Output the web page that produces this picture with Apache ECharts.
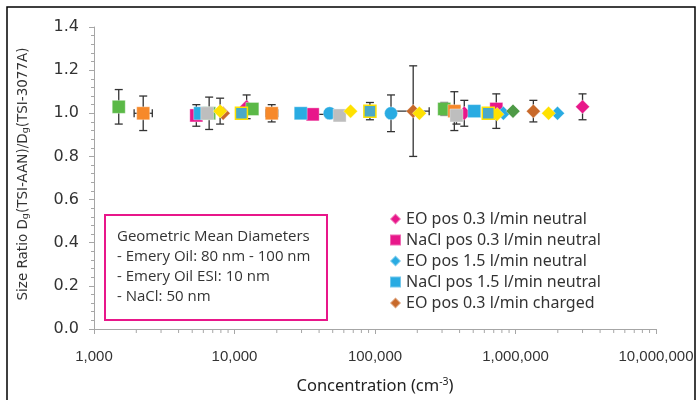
<!DOCTYPE html>
<html>
<head>
<meta charset="utf-8">
<script src="https://cdn.jsdelivr.net/npm/echarts@6/dist/echarts.min.js"></script>
<style>
  html, body { margin: 0; padding: 0; background: #fff; }
  #chart { width: 699px; height: 400px; }
</style>
</head>
<body>
<div id="chart"></div>
<script>
// concentration (cm-3), size ratio
const eoPos03Neutral = [[12200, 1.03], [432000, 1.0], [3000000, 1.03]];
const naclPos03Neutral = [[5350, 0.99], [36000, 0.995], [730000, 1.02]];
const eoPos15Neutral = [[820000, 1.0], [1990000, 1.0]];
const naclPos15Neutral = [[5700, 1.0], [29600, 1.0], [509000, 1.01]];
const eoPos03Charged = [[8300, 1.0], [187000, 1.01], [1340000, 1.01]];
// series without a legend entry
const blueCircles = [[47600, 1.0], [130000, 1.0]];
const greenSquares = [[1500, 1.03], [6600, 1.0], [13400, 1.02], [311000, 1.02]];
const orangeSquares = [[2240, 1.0], [18400, 1.0], [367000, 1.01]];
const greySquares = [[6400, 1.0], [56000, 0.99], [380000, 0.99]];
const yellowDiamonds = [[7900, 1.01], [67000, 1.01], [207000, 1.0], [740000, 0.995], [1720000, 1.0]];
const tealSquares = [[11200, 1.0], [92000, 1.01], [640000, 1.0]];
const darkGreenDiamonds = [[960000, 1.01]];

// x, y, y error, x low, x high (0 = no x error)
const errorBars = [
  [1500, 1.03, 0.08, 0, 0],
  [2240, 1.0, 0.08, 1930, 2600],
  [5350, 0.99, 0.05, 0, 0],
  [6600, 1.0, 0.075, 0, 0],
  [7900, 1.01, 0.06, 0, 0],
  [12200, 1.03, 0.055, 0, 0],
  [18400, 1.0, 0.04, 16700, 20300],
  [29600, 1.0, 0.02, 0, 0],
  [36000, 0.995, 0.02, 30000, 47000],
  [47600, 1.0, 0.02, 0, 0],
  [56000, 0.99, 0.02, 0, 0],
  [92000, 1.01, 0.04, 0, 0],
  [130000, 1.0, 0.085, 0, 0],
  [187000, 1.01, 0.21, 130000, 243000],
  [311000, 1.02, 0.03, 0, 0],
  [367000, 1.01, 0.09, 0, 0],
  [380000, 0.99, 0.04, 0, 0],
  [432000, 1.0, 0.06, 0, 0],
  [640000, 1.0, 0.02, 0, 0],
  [730000, 1.01, 0.08, 0, 0],
  [1340000, 1.01, 0.05, 0, 0],
  [3000000, 1.03, 0.06, 0, 0]
];

const legendNames = ['EO pos 0.3 l/min neutral', 'NaCl pos 0.3 l/min neutral',
  'EO pos 1.5 l/min neutral', 'NaCl pos 1.5 l/min neutral', 'EO pos 0.3 l/min charged'];

// minor ticks of the log axis: 2..9 per decade
const minorTickValues = [];
[1000, 10000, 100000, 1000000].forEach(function (d) {
  [2, 3, 4, 5, 6, 7, 8, 9].forEach(function (m) { minorTickValues.push([d * m, 0]); });
});

const axisGrey = '#A6A6A6';

function scatter(name, data, symbol, color, size, border) {
  return {
    name: name,
    type: 'scatter',
    data: data,
    symbol: symbol,
    symbolSize: size,
    z: 3,
    itemStyle: {
      color: color,
      borderColor: border || 'rgba(255,255,255,0.35)',
      borderWidth: border ? 1.5 : 1,
      opacity: 1
    },
    emphasis: { disabled: true }
  };
}

const chart = echarts.init(document.getElementById('chart'));
chart.setOption({
  animation: false,
  backgroundColor: '#fff',
  grid: { left: 94, right: 43, top: 27, bottom: 65 },
  legend: {
    data: legendNames.map(function (n, i) {
      return { name: n, icon: (i === 1 || i === 3) ? 'rect' : 'diamond' };
    }),
    orient: 'vertical',
    left: 384,
    top: 206,
    itemWidth: 11,
    itemHeight: 11,
    itemGap: 5,
    textStyle: { fontFamily: 'Noto Sans', fontSize: 16, color: '#333' },
    selectedMode: false
  },
  xAxis: {
    type: 'log',
    logBase: 10,
    min: 1000,
    max: 10000000,
    name: 'Concentration (cm{sup|-3})',
    nameLocation: 'middle',
    nameGap: 48,
    nameTextStyle: {
      fontFamily: 'Noto Sans', fontSize: 16.5, color: '#222',
      rich: { sup: { fontFamily: 'Noto Sans', fontSize: 10.5, color: '#222', verticalAlign: 'top', padding: [0, 0, 8, 0] } }
    },
    axisLine: { lineStyle: { color: axisGrey } },
    axisTick: { length: 5, lineStyle: { color: axisGrey } },
    splitLine: { show: false },
    axisLabel: {
      margin: 20,
      fontFamily: 'Liberation Sans',
      fontSize: 15,
      color: '#333',
      formatter: function (v) { return Number(v).toLocaleString('en-US'); }
    }
  },
  yAxis: {
    type: 'value',
    min: 0,
    max: 1.4,
    interval: 0.2,
    name: 'Size Ratio D{sub|g}(TSI-AAN)/D{sub|g}(TSI-3077A)',
    nameLocation: 'middle',
    nameRotate: 90,
    nameGap: 63,
    nameTextStyle: {
      fontFamily: 'DejaVu Sans', fontSize: 13.5, color: '#333',
      padding: [0, 0, 0, 8],
      rich: { sub: { fontFamily: 'DejaVu Sans', fontSize: 9.5, color: '#333', verticalAlign: 'bottom', padding: [6, 0, 0, 0] } }
    },
    axisLine: { show: true, lineStyle: { color: axisGrey } },
    axisTick: { show: true, length: 5, lineStyle: { color: axisGrey } },
    minorTick: { show: true, splitNumber: 5, length: 3, lineStyle: { color: axisGrey } },
    splitLine: { show: false },
    axisLabel: {
      margin: 15,
      fontFamily: 'DejaVu Sans',
      fontSize: 16,
      color: '#333',
      formatter: function (v) { return v.toFixed(1); }
    }
  },
  graphic: [
    {
      type: 'rect', silent: true, z: 100,
      shape: { x: 7, y: 7, width: 688, height: 400 },
      style: { fill: 'none', stroke: '#000', lineWidth: 1.5 }
    },
    {
      type: 'rect', silent: true, z: 100,
      shape: { x: 105, y: 215, width: 222, height: 105 },
      style: { fill: '#fff', stroke: '#E8178A', lineWidth: 2 }
    },
    {
      type: 'text', silent: true, z: 101, left: 117, top: 227,
      style: {
        text: 'Geometric Mean Diameters\n- Emery Oil: 80 nm - 100 nm\n- Emery Oil ESI: 10 nm\n- NaCl: 50 nm',
        fontFamily: 'Open Sans', fontSize: 15, lineHeight: 20, fill: '#333'
      }
    }
  ],
  series: [
    {
      type: 'custom',
      silent: true,
      z: 1,
      clip: false,
      data: minorTickValues,
      encode: { x: 0, y: 1 },
      renderItem: function (params, api) {
        const p = api.coord([api.value(0), 0]);
        return { type: 'line', shape: { x1: p[0], y1: p[1], x2: p[0], y2: p[1] + 4 }, style: { stroke: axisGrey, lineWidth: 1 } };
      }
    },
    {
      type: 'custom',
      silent: true,
      z: 2,
      data: errorBars,
      encode: { x: 0, y: 1 },
      renderItem: function (params, api) {
        const x = api.value(0), y = api.value(1), e = api.value(2);
        const xl = api.value(3), xh = api.value(4);
        const top = api.coord([x, y + e]);
        const bot = api.coord([x, y - e]);
        const c = 4;
        const st = { stroke: '#333', lineWidth: 1.3 };
        const kids = [
          { type: 'line', shape: { x1: top[0], y1: top[1], x2: bot[0], y2: bot[1] }, style: st },
          { type: 'line', shape: { x1: top[0] - c, y1: top[1], x2: top[0] + c, y2: top[1] }, style: st },
          { type: 'line', shape: { x1: bot[0] - c, y1: bot[1], x2: bot[0] + c, y2: bot[1] }, style: st }
        ];
        if (xl > 0) {
          const l = api.coord([xl, y]);
          const r = api.coord([xh, y]);
          kids.push({ type: 'line', shape: { x1: l[0], y1: l[1], x2: r[0], y2: r[1] }, style: st });
          kids.push({ type: 'line', shape: { x1: l[0], y1: l[1] - c, x2: l[0], y2: l[1] + c }, style: st });
          kids.push({ type: 'line', shape: { x1: r[0], y1: r[1] - c, x2: r[0], y2: r[1] + c }, style: st });
        }
        return { type: 'group', children: kids };
      }
    },
    scatter(legendNames[0], eoPos03Neutral, 'diamond', '#E8178A', 14),
    scatter(legendNames[1], naclPos03Neutral, 'rect', '#E8178A', 13),
    scatter(legendNames[2], eoPos15Neutral, 'diamond', '#29ABE2', 14),
    scatter(legendNames[3], naclPos15Neutral, 'rect', '#29ABE2', 13),
    scatter(legendNames[4], eoPos03Charged, 'diamond', '#C8692A', 14),
    scatter('blue circles', blueCircles, 'circle', '#29ABE2', 13),
    scatter('green squares', greenSquares, 'rect', '#5BB947', 13),
    scatter('orange squares', orangeSquares, 'rect', '#F7892A', 13),
    scatter('grey squares', greySquares, 'rect', '#BEBEBE', 13),
    scatter('yellow diamonds', yellowDiamonds, 'diamond', '#FFE100', 14),
    scatter('teal squares', tealSquares, 'rect', '#4BA9C8', 12, '#FFE100'),
    scatter('dark green diamonds', darkGreenDiamonds, 'diamond', '#4E9A46', 14)
  ]
});
</script>
</body>
</html>
